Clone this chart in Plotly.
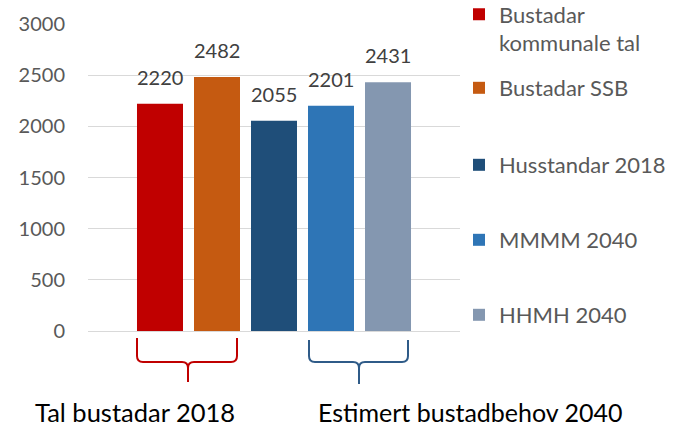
import plotly.graph_objects as go

series = ["Bustadar<br>kommunale tal", "Bustadar SSB", "Husstandar 2018", "MMMM 2040", "HHMH 2040"]
values = [2220, 2482, 2055, 2201, 2431]
colors = ["#C00000", "#C55A11", "#1F4E79", "#2E75B6", "#8497B0"]
group_labels = ["Tal bustadar 2018", "Estimert bustadbehov 2040"]
y_ticks = [0, 500, 1000, 1500, 2000, 2500, 3000]

W, H = 680, 428
L, R, T, B = 88, 460, 24, 331  # plot area in px

def px(x):
    return (x - L) / (R - L)

def py(y):
    return (B - y) / (B - T)

fig = go.Figure()
legend_names = ["legend", "legend2", "legend3", "legend4", "legend5"]
for name, v, c, lg in zip(series, values, colors, legend_names):
    fig.add_trace(go.Bar(
        x=[name], y=[v], name=name, marker=dict(color=c, line=dict(width=0)),
        legend=lg, hoverinfo="y",
    ))

annotations = []
# data labels, anchored to each bar's value through the axes
for name, v in zip(series, values):
    annotations.append(dict(
        x=name, y=v, xref="x", yref="y", text=str(v), showarrow=False,
        xanchor="center", yanchor="bottom", yshift=13,
        font=dict(family="Lato", size=20, color="#404040"),
    ))

legend_y = [29, 88, 165, 240, 315]
layout_legends = {}
for lg, yy in zip(legend_names, legend_y):
    layout_legends[lg] = dict(
        x=px(459), y=py(yy), xanchor="left", yanchor="middle",
        font=dict(family="Lato", size=22, color="#595959"),
        bgcolor="rgba(0,0,0,0)", valign="top",
    )

def brace(x0, x1, xc, ytop, yh, ytip, r=6):
    pts = [
        f"M {px(x0)},{py(ytop)}",
        f"L {px(x0)},{py(yh - r)}",
        f"Q {px(x0)},{py(yh)} {px(x0 + r)},{py(yh)}",
        f"L {px(xc - r)},{py(yh)}",
        f"Q {px(xc)},{py(yh)} {px(xc)},{py(yh + r)}",
        f"L {px(xc)},{py(ytip)}",
        f"M {px(xc)},{py(yh + r)}",
        f"Q {px(xc)},{py(yh)} {px(xc + r)},{py(yh)}",
        f"L {px(x1 - r)},{py(yh)}",
        f"Q {px(x1)},{py(yh)} {px(x1)},{py(yh - r)}",
        f"L {px(x1)},{py(ytop)}",
    ]
    return " ".join(pts)

shapes = [
    dict(type="path", xref="paper", yref="paper",
         path=brace(137, 237, 188, 338, 362, 382),
         line=dict(color="#C00000", width=2)),
    dict(type="path", xref="paper", yref="paper",
         path=brace(309, 408, 359, 340, 362, 384),
         line=dict(color="#2F5B88", width=2)),
]

annotations += [
    dict(text=group_labels[0], x=px(134.7), y=py(412), xref="paper", yref="paper",
         showarrow=False, xanchor="center", yanchor="middle",
         font=dict(family="Lato", size=25.5, color="#000000")),
    dict(text=group_labels[1], x=px(470), y=py(412), xref="paper", yref="paper",
         showarrow=False, xanchor="center", yanchor="middle",
         font=dict(family="Lato", size=25, color="#000000")),
]

fig.update_layout(
    width=W, height=H,
    margin=dict(l=L, r=W - R, t=T, b=H - B, autoexpand=False),
    paper_bgcolor="white", plot_bgcolor="white",
    barmode="overlay", bargap=0.193,
    showlegend=True,
    shapes=shapes, annotations=annotations,
    font=dict(family="Lato"),
    **layout_legends,
)
fig.update_xaxes(type="category", categoryorder="array", categoryarray=series,
                 range=[-1.263, 5.263], showticklabels=False, showgrid=False,
                 zeroline=False, showline=False, fixedrange=True)
fig.update_yaxes(range=[0, 3000], tickvals=y_ticks, showgrid=True, gridcolor="#D9D9D9",
                 gridwidth=1, zeroline=True, zerolinecolor="#D9D9D9", zerolinewidth=1,
                 showline=False, ticks="", ticklabelstandoff=22, fixedrange=True,
                 tickfont=dict(family="Lato", size=20, color="#595959"))

fig.write_html("out.html", config={"displayModeBar": False},
               post_script="document.body.style.margin='0';")
